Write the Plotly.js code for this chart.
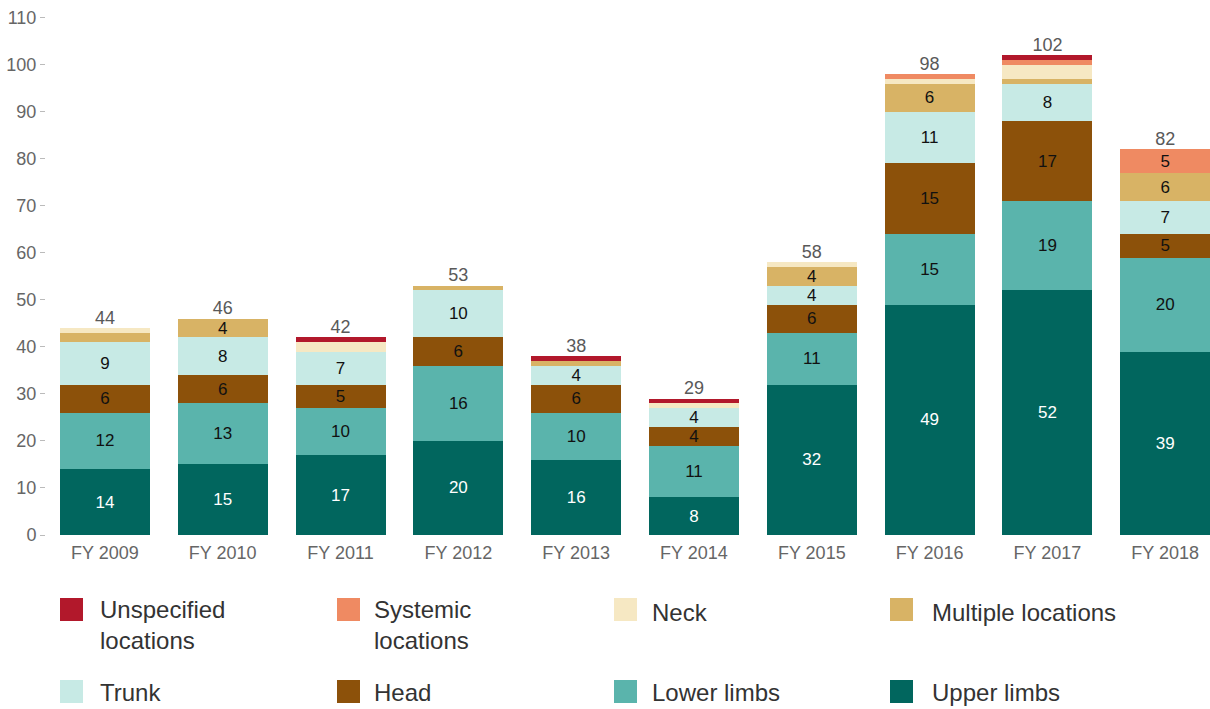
<!DOCTYPE html>
<html>
<head>
<meta charset="utf-8">
<script src="https://cdn.plot.ly/plotly-3.0.1.min.js"></script>
<style>html,body{margin:0;padding:0;background:#fff;}#chart{width:1210px;height:709px;}</style>
</head>
<body>
<div id="chart"></div>
<script>
const categories = ["FY 2009","FY 2010","FY 2011","FY 2012","FY 2013","FY 2014","FY 2015","FY 2016","FY 2017","FY 2018"];
const upperLimbs   = [14, 15, 17, 20, 16,  8, 32, 49, 52, 39];
const lowerLimbs   = [12, 13, 10, 16, 10, 11, 11, 15, 19, 20];
const head         = [ 6,  6,  5,  6,  6,  4,  6, 15, 17,  5];
const trunk        = [ 9,  8,  7, 10,  4,  4,  4, 11,  8,  7];
const multipleLoc  = [ 2,  4,  0,  1,  1,  0,  4,  6,  1,  6];
const neck         = [ 1,  0,  2,  0,  0,  1,  1,  1,  3,  0];
const systemicLoc  = [ 0,  0,  0,  0,  0,  0,  0,  1,  1,  5];
const unspecLoc    = [ 0,  0,  1,  0,  1,  1,  0,  0,  1,  0];

const seriesNames  = ["Upper limbs","Lower limbs","Head","Trunk","Multiple locations","Neck","Systemic locations","Unspecified locations"];
const legendLabels = ["Upper limbs","Lower limbs","Head","Trunk","Multiple locations","Neck","Systemic<br>locations","Unspecified<br>locations"];
const seriesValues = [upperLimbs, lowerLimbs, head, trunk, multipleLoc, neck, systemicLoc, unspecLoc];
const seriesColors = ["#01665E","#5AB4AC","#8C510A","#C7EAE5","#D8B365","#F6E8C3","#EF8A62","#B2182B"];
const labelColors  = ["#ffffff","#111111","#111111","#111111","#111111","#111111","#111111","#111111"];

const totals = categories.map((c, i) => seriesValues.reduce((s, v) => s + v[i], 0));

const traces = seriesNames.map((name, k) => ({
  type: "bar",
  name: name,
  x: categories,
  y: seriesValues[k],
  marker: {color: seriesColors[k], line: {width: 0}},
  text: seriesValues[k].map(v => v >= 4 ? String(v) : ""),
  textposition: "inside",
  insidetextanchor: "middle",
  textangle: 0,
  textfont: {color: labelColors[k], size: 17},
  showlegend: false,
  hoverinfo: "x+y+name"
}));

traces.push({
  type: "scatter",
  mode: "text",
  x: categories,
  y: totals,
  text: totals.map(String),
  textposition: "top center",
  textfont: {color: "#595959", size: 18},
  showlegend: false,
  hoverinfo: "skip",
  cliponaxis: false
});

// Custom legend (page-pixel layout converted to paper coordinates)
const W = 1210, H = 709, mL = 46, mR = 0, mT = 13, mB = 174;
const plotW = W - mL - mR, plotH = H - mT - mB;
const px2x = px => (px - mL) / plotW;
const py2y = py => (H - mB - py) / plotH;

const legendOrder = [7, 6, 5, 4, 3, 2, 1, 0];
const colSwatchX = [60, 337, 614, 890];
const colTextX   = [98, 372, 650, 930];
const rowSwatchTop = [598, 680];
const rowTextY = [612, 693];

const shapes = [];
const annotations = [];
legendOrder.forEach((k, idx) => {
  const col = idx % 4, row = Math.floor(idx / 4);
  const sx = colSwatchX[col], sy = rowSwatchTop[row];
  shapes.push({
    type: "rect", xref: "paper", yref: "paper",
    x0: px2x(sx), x1: px2x(sx + 23),
    y0: py2y(sy + 23), y1: py2y(sy),
    fillcolor: seriesColors[k], line: {width: 0}
  });
  const twoLine = legendLabels[k].indexOf("<br>") >= 0;
  annotations.push({
    xref: "paper", yref: "paper",
    x: px2x(colTextX[col]), y: py2y(twoLine ? rowTextY[row] + 13 : rowTextY[row]),
    xanchor: "left", yanchor: "middle", align: "left",
    text: legendLabels[k], showarrow: false,
    font: {size: 24, color: "#333333"}
  });
});

const layout = {
  width: W,
  height: H,
  barmode: "stack",
  bargap: 0.236,
  margin: {l: mL, r: mR, t: mT, b: mB, autoexpand: false},
  paper_bgcolor: "#ffffff",
  plot_bgcolor: "#ffffff",
  font: {family: "Liberation Sans, Arial, sans-serif", color: "#666666", size: 18},
  uniformtext: {mode: "show", minsize: 17},
  showlegend: false,
  xaxis: {
    range: [-0.5, 9.38],
    showgrid: false,
    zeroline: false,
    showline: false,
    ticks: "",
    ticklabelstandoff: 5,
    tickfont: {size: 18, color: "#666666"},
    fixedrange: true
  },
  yaxis: {
    range: [0, 111],
    tickvals: [0,10,20,30,40,50,60,70,80,90,100,110],
    showgrid: false,
    zeroline: false,
    showline: false,
    ticks: "outside",
    ticklen: 5,
    tickcolor: "#bbbbbb",
    tickfont: {size: 18, color: "#666666"},
    fixedrange: true
  },
  shapes: shapes,
  annotations: annotations
};

Plotly.newPlot("chart", traces, layout, {displayModeBar: false, staticPlot: true});
</script>
</body>
</html>
